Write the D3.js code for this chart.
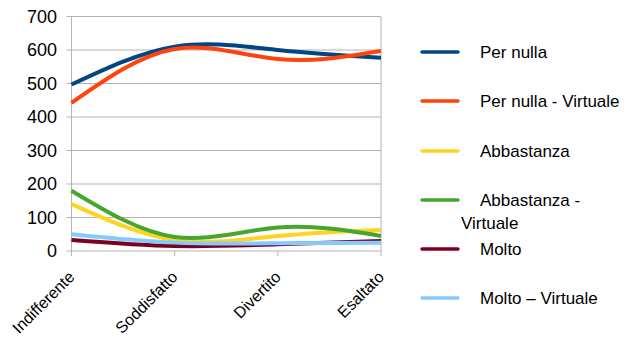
<!DOCTYPE html>
<html>
<head>
<meta charset="utf-8">
<script src="https://cdn.jsdelivr.net/npm/d3@7"></script>
<style>
  html, body { margin: 0; padding: 0; background: #fff; }
  svg { display: block; font-family: "Liberation Sans", Arial, sans-serif; }
</style>
</head>
<body>
<svg id="chart" width="626" height="338"></svg>
<script>
// Categories along the x axis
const categories = ["Indifferente", "Soddisfatto", "Divertito", "Esaltato"];

// Series values, one array per series
const perNulla          = [497, 610, 600, 577];
const perNullaVirtuale  = [442, 603, 573, 597];
const abbastanza        = [140, 33, 45, 63];
const abbastanzaVirt    = [180, 42, 70, 45];
const molto             = [33, 15, 20, 30];
const moltoVirtuale     = [50, 25, 23, 25];

// Y axis ticks
const yTicks = [0, 100, 200, 300, 400, 500, 600, 700];

const seriesNames  = ["Per nulla", "Per nulla - Virtuale", "Abbastanza", "Abbastanza - Virtuale", "Molto", "Molto \u2013 Virtuale"];
const seriesColors = ["#004586", "#ff420e", "#ffd320", "#47a62e", "#7e0021", "#83caff"];
const seriesValues = [perNulla, perNullaVirtuale, abbastanza, abbastanzaVirt, molto, moltoVirtuale];

const series = seriesNames.map((name, i) => ({ name, color: seriesColors[i], values: seriesValues[i] }));

const svg = d3.select("#chart");
const plot = { left: 71.5, right: 381, top: 16.5, bottom: 251 };

const x = d3.scalePoint().domain(categories).range([plot.left, plot.right]);
const y = d3.scaleLinear().domain([0, 700]).range([plot.bottom, plot.top]);

// Horizontal grid lines with small outer ticks
const gridG = svg.append("g");
gridG.selectAll("line.grid").data(yTicks).join("line")
  .attr("x1", plot.left - 5).attr("x2", plot.right)
  .attr("y1", d => y(d)).attr("y2", d => y(d))
  .attr("stroke", "#b3b3b3").attr("stroke-width", 1);

// Wall borders (left axis and right edge)
svg.append("line").attr("x1", plot.left).attr("x2", plot.left)
  .attr("y1", plot.top).attr("y2", plot.bottom)
  .attr("stroke", "#b3b3b3").attr("stroke-width", 1);
svg.append("line").attr("x1", plot.right).attr("x2", plot.right)
  .attr("y1", plot.top).attr("y2", plot.bottom)
  .attr("stroke", "#b3b3b3").attr("stroke-width", 1);

// Category tick marks below the axis
svg.append("g").selectAll("line").data(categories).join("line")
  .attr("x1", d => x(d)).attr("x2", d => x(d))
  .attr("y1", plot.bottom).attr("y2", plot.bottom + 5)
  .attr("stroke", "#b3b3b3").attr("stroke-width", 1);

// Y tick labels
svg.append("g").selectAll("text").data(yTicks).join("text")
  .attr("x", 57).attr("y", d => y(d))
  .attr("dy", "0.36em")
  .attr("text-anchor", "end")
  .attr("font-size", 18)
  .attr("fill", "#000")
  .text(d => d);

// Rotated category labels
svg.append("g").selectAll("text").data(categories).join("text")
  .attr("transform", d => `translate(${x(d) + 4},${plot.bottom + 27}) rotate(-45)`)
  .attr("text-anchor", "end")
  .attr("font-size", 16)
  .attr("fill", "#000")
  .text(d => d);

// Series lines, smoothed with a cubic spline
const line = d3.line()
  .x((d, i) => x(categories[i]))
  .y(d => y(d))
  .curve(d3.curveNatural);

svg.append("g").selectAll("path").data(series).join("path")
  .attr("d", s => line(s.values))
  .attr("fill", "none")
  .attr("stroke", s => s.color)
  .attr("stroke-width", 4)
  .attr("stroke-linejoin", "round");

// Legend
const legendY = [52, 101, 151, 200, 249, 298];
const legend = svg.append("g");
const items = legend.selectAll("g").data(series).join("g")
  .attr("transform", (s, i) => `translate(0,${legendY[i]})`);
items.append("line")
  .attr("x1", 422).attr("x2", 458).attr("y1", 0).attr("y2", 0)
  .attr("stroke", s => s.color).attr("stroke-width", 3.5).attr("stroke-linecap", "round");
items.each(function(s) {
  const g = d3.select(this);
  const parts = s.name === "Abbastanza - Virtuale" ? ["Abbastanza -", "Virtuale"] : [s.name];
  parts.forEach((p, j) => {
    g.append("text")
      .attr("x", j === 0 ? 480 : 461)
      .attr("y", j * 23)
      .attr("dy", "0.36em")
      .attr("font-size", 17)
      .attr("fill", "#000")
      .text(p);
  });
});
</script>
</body>
</html>
